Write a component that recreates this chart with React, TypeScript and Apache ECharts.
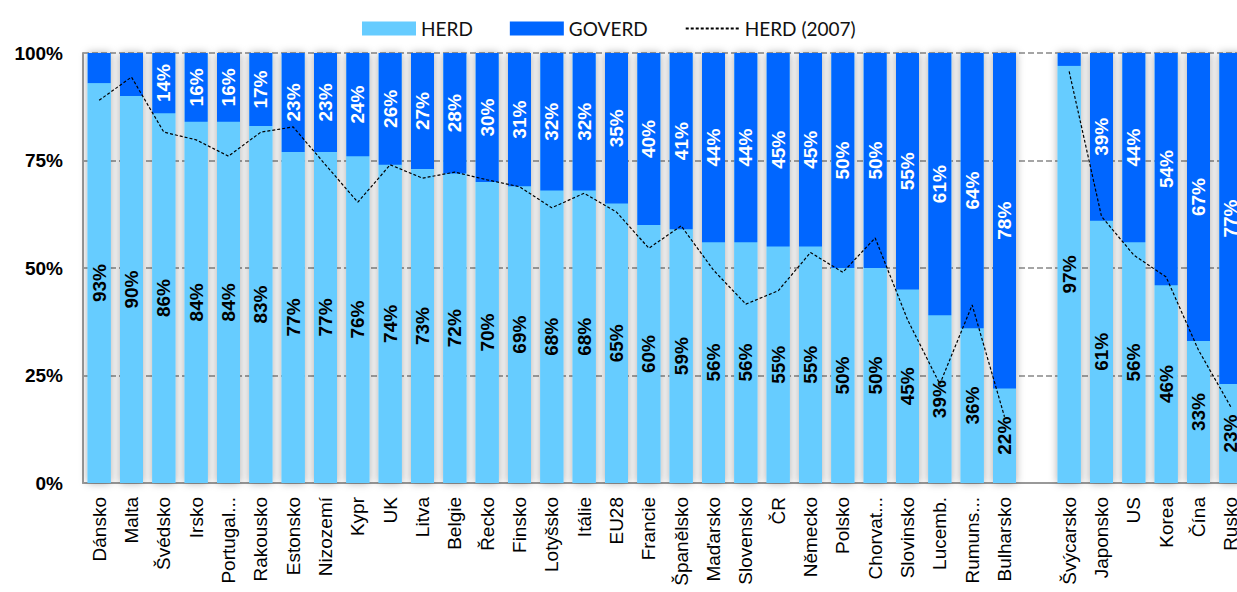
import React, { useEffect, useRef } from "react";
import * as echarts from "echarts";

const categories = [
  "Dánsko", "Malta", "Švédsko", "Irsko", "Portugal...", "Rakousko", "Estonsko", "Nizozemí",
  "Kypr", "UK", "Litva", "Belgie", "Řecko", "Finsko", "Lotyšsko", "Itálie", "EU28",
  "Francie", "Španělsko", "Maďarsko", "Slovensko", "ČR", "Německo", "Polsko", "Chorvat...",
  "Slovinsko", "Lucemb.", "Rumuns...", "Bulharsko", "", "Švýcarsko", "Japonsko", "US",
  "Korea", "Čína", "Rusko",
];

const herd = [
  93, 90, 86, 84, 84, 83, 77, 77, 76, 74, 73, 72, 70, 69, 68, 68, 65, 60, 59, 56, 56, 55,
  55, 50, 50, 45, 39, 36, 22, null, 97, 61, 56, 46, 33, 23,
];

const goverd = [
  7, 10, 14, 16, 16, 17, 23, 23, 24, 26, 27, 28, 30, 31, 32, 32, 35, 40, 41, 44, 44, 45,
  45, 50, 50, 55, 61, 64, 78, null, 3, 39, 44, 54, 67, 77,
];

const herd2007 = [
  89, 94.4, 81.6, 79.8, 76, 81.6, 82.8, 74, 65.3, 74, 70.9, 72.3, 70.5, 68.9, 64, 67.4, 63,
  54.6, 59.8, 49.5, 41.6, 44.7, 53.6, 49, 57, 38, 23, 41.4, 15.4, null, 95.7, 62, 53, 47.9,
  30.9, 17.7,
];

const yTicks = [0, 25, 50, 75, 100];

export default function App() {
  const ref = useRef<HTMLDivElement>(null);

  useEffect(() => {
    if (!ref.current) return;
    const chart = echarts.init(ref.current, null, { renderer: "svg" });
    const totals = herd.map((v, i) => (v == null ? null : (v as number) + (goverd[i] as number)));
    const barW = 23;
    chart.setOption({
      animation: false,
      legend: {
        left: 357,
        top: 14,
        itemWidth: 54,
        itemHeight: 14,
        itemGap: 37,
        textStyle: { fontFamily: "Lato", fontSize: 19, color: "#111" },
        data: [
          { name: "HERD", icon: "rect" },
          { name: "GOVERD", icon: "rect" },
          { name: "HERD (2007)", itemStyle: { opacity: 0 } },
        ],
      },
      grid: { left: 83, right: 13, top: 53, bottom: 109, containLabel: false },
      xAxis: {
        type: "category",
        data: categories,
        axisLine: { show: true, lineStyle: { color: "#999", width: 2 } },
        axisTick: { show: false },
        axisLabel: {
          interval: 0,
          rotate: 90,
          margin: 14,
          fontFamily: "Liberation Sans",
          fontSize: 19,
          color: "#000",
        },
      },
      yAxis: {
        type: "value",
        min: yTicks[0],
        max: yTicks[yTicks.length - 1],
        interval: 25,
        axisLine: { show: true, lineStyle: { color: "#999", width: 2 } },
        axisTick: { show: false },
        axisLabel: {
          formatter: "{value}%",
          margin: 20,
          fontFamily: "Liberation Sans",
          fontWeight: "bold",
          fontSize: 19,
          color: "#000",
        },
        splitLine: {
          show: true,
          lineStyle: { color: "#888", width: 1.5, type: [6, 3] },
        },
      },
      series: [
        {
          name: "shadow",
          type: "bar",
          data: totals,
          barWidth: barW,
          barGap: "-100%",
          silent: true,
          z: 1,
          itemStyle: {
            color: "#66CCFF",
            shadowBlur: 8,
            shadowColor: "rgba(0,0,0,0.35)",
          },
          label: { show: false },
        },
        {
          name: "HERD",
          type: "bar",
          stack: "a",
          data: herd,
          barWidth: barW,
          barGap: "-100%",
          z: 2,
          itemStyle: { color: "#66CCFF" },
          label: {
            show: true,
            position: "inside",
            rotate: 90,
            formatter: "{c}%",
            fontFamily: "Liberation Sans",
            fontWeight: "bold",
            fontSize: 19,
            color: "#000",
          },
        },
        {
          name: "GOVERD",
          type: "bar",
          stack: "a",
          data: goverd,
          barWidth: barW,
          barGap: "-100%",
          z: 2,
          itemStyle: { color: "#0066FF" },
          label: {
            show: true,
            position: "inside",
            rotate: 90,
            formatter: (p: any) => (p.value != null && p.value >= 12 ? p.value + "%" : ""),
            fontFamily: "Liberation Sans",
            fontWeight: "bold",
            fontSize: 19,
            color: "#fff",
          },
        },
        {
          name: "HERD (2007)",
          type: "line",
          data: herd2007,
          symbol: "none",
          showSymbol: false,
          connectNulls: false,
          z: 3,
          itemStyle: { color: "#000" },
          lineStyle: { color: "#000", width: 1.2, type: [3, 2] },
        },
      ],
    });
    return () => chart.dispose();
  }, []);

  return (
    <div
      style={{
        position: "fixed",
        left: 0,
        top: 0,
        width: 1237,
        height: 592,
        overflow: "hidden",
        background: "#fff",
      }}
    >
      <div ref={ref} style={{ width: 1260, height: 592 }} />
    </div>
  );
}
